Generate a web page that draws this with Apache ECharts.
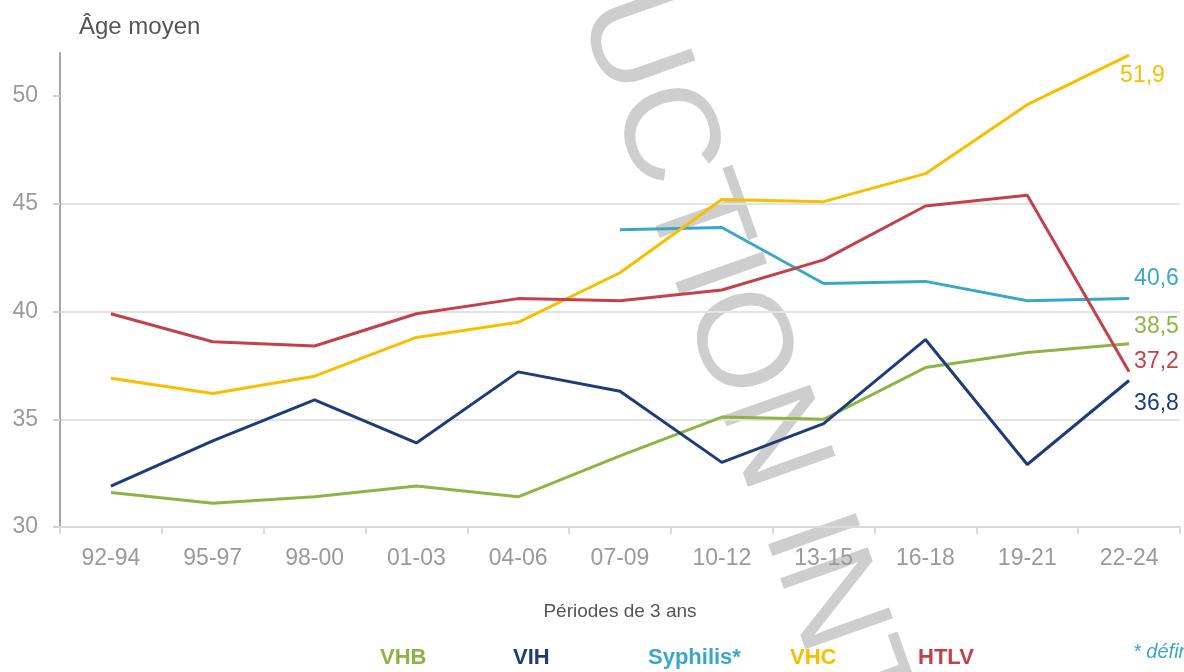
<!DOCTYPE html>
<html>
<head>
<meta charset="utf-8">
<script src="https://cdn.jsdelivr.net/npm/echarts@6/dist/echarts.min.js"></script>
<style>
  html, body { margin: 0; padding: 0; background: #fff; }
  #chart { width: 1184px; height: 672px; }
</style>
</head>
<body>
<div id="chart"></div>
<script>
const periods = ['92-94', '95-97', '98-00', '01-03', '04-06', '07-09', '10-12', '13-15', '16-18', '19-21', '22-24'];

const vhb = [31.6, 31.1, 31.4, 31.9, 31.4, 33.3, 35.1, 35.0, 37.4, 38.1, 38.5];
const vih = [31.9, 34.0, 35.9, 33.9, 37.2, 36.3, 33.0, 34.8, 38.7, 32.9, 36.8];
const syphilis = [null, null, null, null, null, 43.8, 43.9, 41.3, 41.4, 40.5, 40.6];
const vhc = [36.9, 36.2, 37.0, 38.8, 39.5, 41.8, 45.2, 45.1, 46.4, 49.6, 51.9];
const htlv = [39.9, 38.6, 38.4, 39.9, 40.6, 40.5, 41.0, 42.4, 44.9, 45.4, 37.2];

const yTicks = [30, 35, 40, 45, 50];

const seriesNames = ['VHB', 'VIH', 'Syphilis', 'VHC', 'HTLV'];
const legendLabels = ['VHB', 'VIH', 'Syphilis*', 'VHC', 'HTLV'];
const colors = ['#8cb545', '#1d3c78', '#3ba7c6', '#f6bf00', '#c2414b'];

const font = "'Liberation Sans Narrow', 'Arial Narrow', 'Liberation Sans', sans-serif";

// label nudges so the end values do not collide
const endOffsets = [[0, -17], [0, 23], [0, -20], [-14, 21], [0, -10]];
// legend text x positions
const legendX = [380, 513, 648, 790, 918];

const chart = echarts.init(document.getElementById('chart'));
window.addEventListener('resize', function () {
    chart.resize();
});

const allData = [vhb, vih, syphilis, vhc, htlv];

const series = allData.map(function (d, i) {
    return {
        name: seriesNames[i],
        type: 'line',
        data: d,
        symbol: 'none',
        connectNulls: false,
        lineStyle: { color: colors[i], width: 3 },
        itemStyle: { color: colors[i] },
        z: 3,
        endLabel: {
            show: true,
            distance: 5,
            offset: endOffsets[i],
            color: colors[i],
            fontSize: 23,
            fontFamily: font,
            formatter: function (p) {
                return String(p.value).replace('.', ',');
            }
        }
    };
});

const graphics = legendLabels.map(function (t, i) {
    return {
        type: 'text',
        left: legendX[i],
        top: 647,
        style: {
            text: t,
            fill: colors[i],
            font: 'bold 22px ' + font
        }
    };
});
graphics.push({
    type: 'text',
    left: 1133,
    top: 642,
    style: { text: '* défini', fill: colors[2], font: 'italic 20px ' + font }
});
// watermark
graphics.push({
    type: 'text',
    x: 729,
    y: 322,
    rotation: -70.5 * Math.PI / 180,
    silent: true,
    z: -1,
    style: {
        text: 'REPRODUCTION INTERDITE',
        fill: 'rgba(165,165,165,0.55)',
        font: '135px "Liberation Sans", Arial, sans-serif',
        align: 'center',
        verticalAlign: 'middle'
    }
});

chart.setOption({
    backgroundColor: '#fff',
    animation: false,
    grid: { left: 60, right: 4, top: 53, bottom: 145 },
    xAxis: {
        type: 'category',
        data: periods,
        boundaryGap: true,
        name: 'Périodes de 3 ans',
        nameLocation: 'middle',
        nameGap: 75,
        nameTextStyle: { color: '#555', fontSize: 19, fontFamily: font },
        axisLine: { lineStyle: { color: '#d9d9d9', width: 2 } },
        axisTick: { show: true, length: 7, lineStyle: { color: '#d9d9d9', width: 2 } },
        axisLabel: { color: '#9a9a9a', fontSize: 23, fontFamily: font, margin: 20 }
    },
    yAxis: {
        type: 'value',
        min: 30,
        max: 52,
        interval: 5,
        name: 'Âge moyen',
        nameLocation: 'end',
        nameGap: 14,
        nameTextStyle: { color: '#555', fontSize: 24, fontFamily: font, align: 'left', padding: [0, 0, 0, 19] },
        axisLine: { show: true, lineStyle: { color: '#a6a6a6', width: 2 } },
        axisTick: { show: true, length: 7, customValues: yTicks, lineStyle: { color: '#d0d0d0', width: 2 } },
        axisLabel: { color: '#9a9a9a', fontSize: 23, fontFamily: font, margin: 22, showMaxLabel: false },
        splitLine: { showMaxLine: false, lineStyle: { color: '#e3e3e3', width: 2 } }
    },
    series: series,
    graphic: graphics
});
</script>
</body>
</html>
